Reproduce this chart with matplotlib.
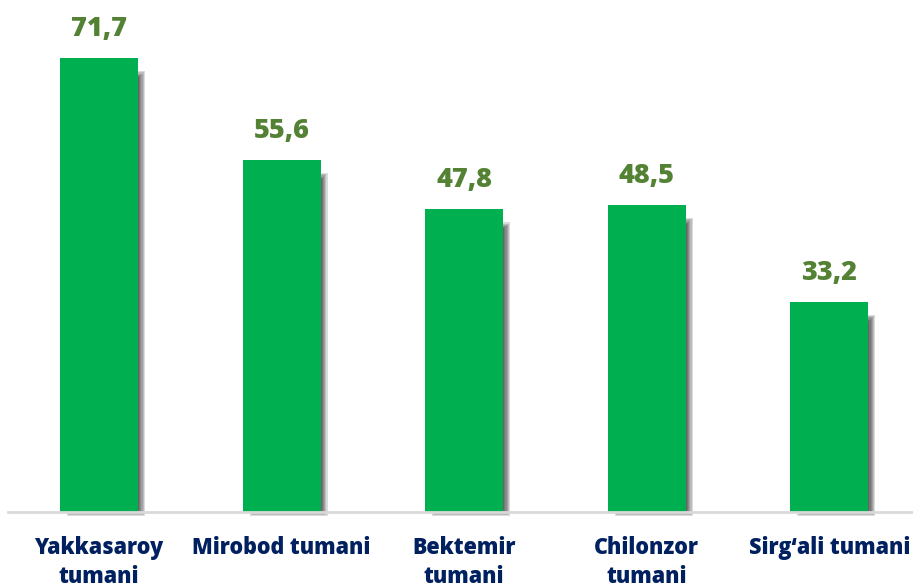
import matplotlib.pyplot as plt
import numpy as np

# ----- Data -----------------------------------------------------------------
districts = [
    "Yakkasaroy\ntumani",
    "Mirobod tumani",
    "Bektemir\ntumani",
    "Chilonzor\ntumani",
    "Sirg\u2018ali tumani",
]
values = [71.7, 55.6, 47.8, 48.5, 33.2]
value_labels = ["71,7", "55,6", "47,8", "48,5", "33,2"]

# ----- Style ----------------------------------------------------------------
BAR_COLOR = "#00B050"
VALUE_COLOR = "#548235"
LABEL_COLOR = "#002060"
AXIS_COLOR = "#D9D9D9"
FONT = ["Open Sans", "DejaVu Sans"]

W, H, DPI = 913, 587, 100
px_x = 182.6           # pixels per category
px_y = 6.33            # pixels per unit value
base_px = 75           # baseline height from bottom (px)

fig = plt.figure(figsize=(W / DPI, H / DPI), dpi=DPI)
left_px = 99 - px_x / 2
ax = fig.add_axes([left_px / W, base_px / H, 5 * px_x / W, (H - base_px) / H])
ax.set_xlim(-0.5, 4.5)
ax.set_ylim(0, (H - base_px) / px_y)

x = np.arange(len(values))
bw = 78 / px_x

# soft drop shadow: stacked translucent rectangles
dx, dy = 7 / px_x, 9 / px_y
for k in range(6):
    inset_x = k * 1.2 / px_x
    inset_y = k * 1.2 / px_y
    ax.bar(x + dx, np.array(values) - dy - 2 * inset_y,
           width=bw - 2 * inset_x, bottom=-4 / px_y + inset_y,
           color="black", alpha=0.14, linewidth=0, clip_on=False, zorder=1)

ax.bar(x, values, width=bw, color=BAR_COLOR, linewidth=0, zorder=3)

for xi, v, lab in zip(x, values, value_labels):
    ax.annotate(lab, (xi, v), xytext=(0, 16), textcoords="offset pixels",
                ha="center", va="bottom", fontsize=19.5, fontweight="heavy",
                color=VALUE_COLOR, family=FONT)

ax.set_xticks(x)
ax.set_xticklabels(districts, fontsize=15.5, fontweight="heavy",
                   color=LABEL_COLOR, family=FONT, linespacing=1.3)
ax.tick_params(axis="x", length=0, pad=17)
ax.set_yticks([])
for side in ("left", "right", "top"):
    ax.spines[side].set_visible(False)
ax.spines["bottom"].set_color(AXIS_COLOR)
ax.spines["bottom"].set_linewidth(2)
ax.spines["bottom"].set_zorder(4)

fig.savefig("out.png", dpi=DPI)
